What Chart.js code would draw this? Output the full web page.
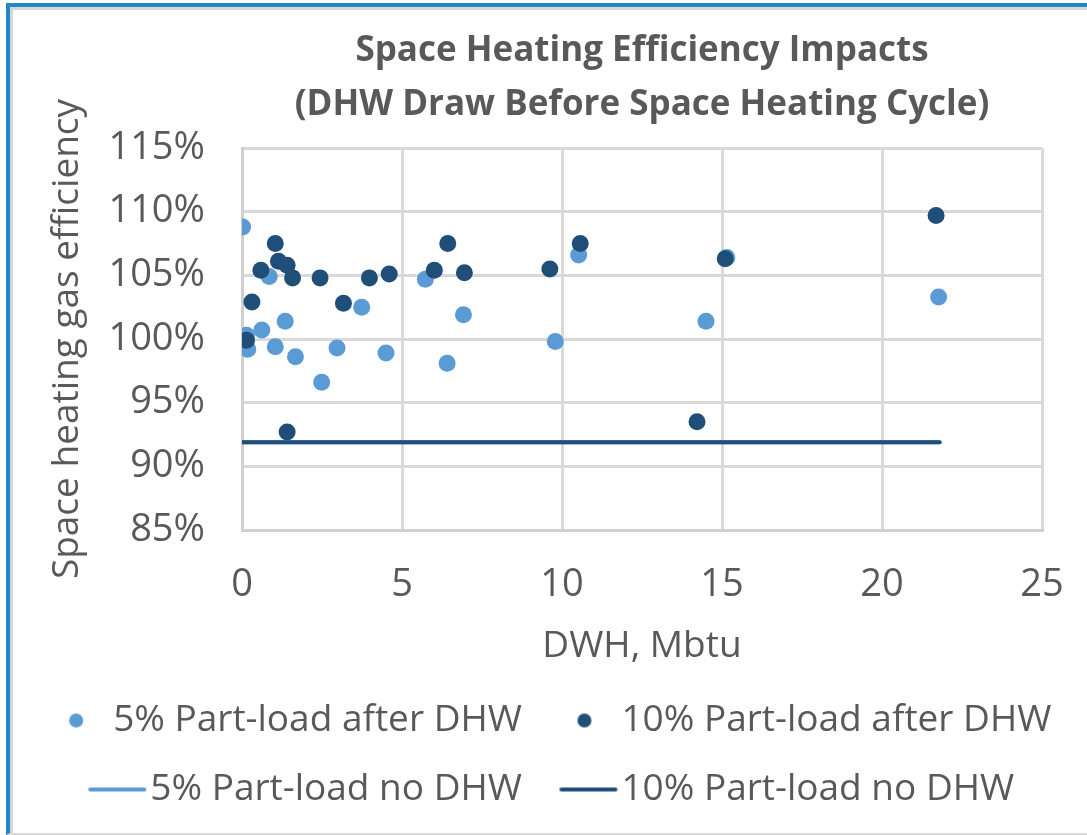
<!DOCTYPE html>
<html>
<head>
<meta charset="utf-8">
<script src="https://cdn.jsdelivr.net/npm/chart.js@4"></script>
<style>
  html, body { margin: 0; padding: 0; background: #fff; }
  #frame {
    position: absolute; left: 6px; top: 3px;
    width: 1077px; height: 826px;
    border-top: 4px solid #1f88c9; border-left: 4px solid #1f88c9;
    border-bottom: 2px solid #d9d9d9;
    box-shadow: inset 3px 3px 0 #d6d6d6;
  }
  canvas { display: block; }
</style>
</head>
<body>
<div id="frame"><canvas id="chart" width="1077" height="826"></canvas></div>
<script>
// valores (x em Mbtu, y em %)
const xLight = [0.02, 0.14, 0.18, 0.62, 0.85, 1.04, 1.35, 1.67, 2.49, 2.97, 3.74, 4.5, 5.73, 6.41, 6.92, 9.79, 10.52, 14.5, 15.15, 21.77];
const yLight = [108.8, 100.3, 99.2, 100.7, 104.9, 99.4, 101.4, 98.6, 96.6, 99.3, 102.5, 98.9, 104.7, 98.1, 101.9, 99.8, 106.6, 101.4, 106.4, 103.3];
const xDark = [0.14, 0.31, 0.59, 1.04, 1.14, 1.41, 1.41, 1.58, 2.44, 3.17, 3.98, 4.6, 6.01, 6.43, 6.95, 9.62, 10.57, 14.22, 15.1, 21.69];
const yDark = [99.9, 102.9, 105.4, 107.5, 106.1, 105.8, 92.7, 104.8, 104.8, 102.8, 104.8, 105.1, 105.4, 107.5, 105.2, 105.5, 107.5, 93.5, 106.3, 109.7];
const lineX = [0, 21.8];
const noDhw5 = [91.9, 91.9];
const noDhw10 = [91.9, 91.9];
const seriesNames = ['5% Part-load after DHW', '10% Part-load after DHW', '5% Part-load no DHW', '10% Part-load no DHW'];
const yTicks = [85, 90, 95, 100, 105, 110, 115];
const xTicks = [0, 5, 10, 15, 20, 25];

const light = '#5b9bd5';
const dark = '#1f4e79';
const grey = '#595959';
const fontFamily = '"Open Sans", Lato, sans-serif';

function pairs(xs, ys) {
  return xs.map((x, i) => ({ x: x, y: ys[i] }));
}

// marcadores da legenda (deslocados para a direita dentro da caixa)
function dotMarker(color) {
  const c = document.createElement('canvas');
  c.width = 28; c.height = 16;
  const g = c.getContext('2d');
  g.fillStyle = color;
  g.beginPath(); g.arc(20, 8, 7, 0, Math.PI * 2); g.fill();
  return c;
}
function lineMarker(color) {
  const c = document.createElement('canvas');
  c.width = 80; c.height = 8;
  const g = c.getContext('2d');
  g.strokeStyle = color; g.lineWidth = 4; g.lineCap = 'round';
  g.beginPath(); g.moveTo(23, 4); g.lineTo(77, 4); g.stroke();
  return c;
}
const markers = [dotMarker(light), dotMarker(dark), lineMarker(light), lineMarker(dark)];

const ctx = document.getElementById('chart').getContext('2d');
new Chart(ctx, {
  type: 'scatter',
  data: {
    datasets: [
      { label: seriesNames[0], data: pairs(xLight, yLight), backgroundColor: light, borderColor: light,
        pointRadius: 8.5, borderWidth: 0, order: 2 },
      { label: seriesNames[1], data: pairs(xDark, yDark), backgroundColor: dark, borderColor: dark,
        pointRadius: 8.5, borderWidth: 0, order: 1 },
      { label: seriesNames[2], data: pairs(lineX, noDhw5), showLine: true, borderColor: light, backgroundColor: light,
        borderWidth: 4, borderCapStyle: 'round', pointRadius: 0, order: 4 },
      { label: seriesNames[3], data: pairs(lineX, noDhw10), showLine: true, borderColor: dark, backgroundColor: dark,
        borderWidth: 4, borderCapStyle: 'round', pointRadius: 0, order: 3 }
    ]
  },
  options: {
    responsive: false,
    animation: false,
    layout: { padding: { left: 0, right: 0, top: 0, bottom: 15 } },
    scales: {
      x: {
        type: 'linear', min: 0, max: 25,
        afterBuildTicks: s => { s.ticks = xTicks.map(v => ({ value: v })); },
        afterFit: s => { s.height = 140; s.paddingRight = 45; },
        grid: { color: '#d9d9d9', lineWidth: 3, drawTicks: false },
        border: { color: '#d0d0d0', width: 3 },
        ticks: { color: grey, padding: 32, font: { family: fontFamily, size: 38 } },
        title: { display: true, text: 'DWH, Mbtu', color: grey, padding: { top: 0, bottom: 3 },
                 font: { family: fontFamily, size: 37, lineHeight: 1.1 } }
      },
      y: {
        min: 85, max: 115,
        afterBuildTicks: s => { s.ticks = yTicks.map(v => ({ value: v })); },
        afterFit: s => { s.width = 232; },
        grid: { color: '#d9d9d9', lineWidth: 3, drawTicks: false },
        border: { color: '#d0d0d0', width: 3 },
        ticks: { color: grey, padding: 37, font: { family: fontFamily, size: 38 },
                 callback: v => v + '%' },
        title: { display: true, text: 'Space heating gas efficiency', color: grey,
                 padding: { top: 35, bottom: 0 }, font: { family: fontFamily, size: 37 } }
      }
    },
    plugins: {
      title: {
        display: true,
        fullSize: false,
        text: ['Space Heating Efficiency Impacts', '(DHW Draw Before Space Heating Cycle)'],
        color: grey,
        font: { family: fontFamily, size: 35, weight: 'bold', lineHeight: '54px' },
        padding: { top: 17, bottom: 16 }
      },
      legend: {
        position: 'bottom',
        labels: {
          color: grey,
          font: { family: fontFamily, size: 37 },
          usePointStyle: true,
          pointStyleWidth: 49,
          padding: 32,
          sort: (a, b) => a.datasetIndex - b.datasetIndex,
          generateLabels: chart => Chart.defaults.plugins.legend.labels.generateLabels(chart)
            .map(item => Object.assign(item, { pointStyle: markers[item.datasetIndex] }))
        }
      },
      tooltip: { enabled: false }
    }
  }
});
</script>
</body>
</html>
